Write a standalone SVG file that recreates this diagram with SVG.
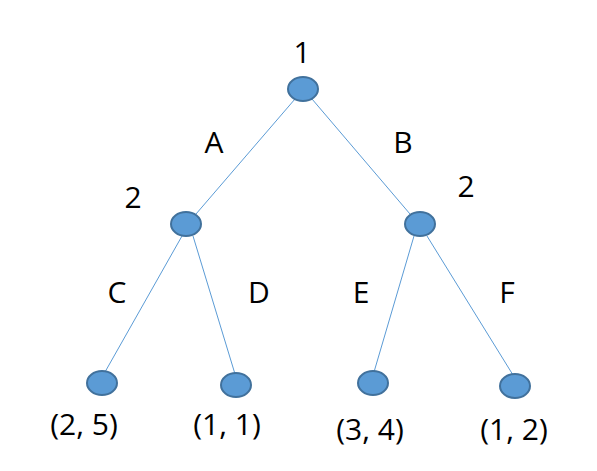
<svg xmlns="http://www.w3.org/2000/svg" width="597" height="471" viewBox="0 0 597 471">
<style>
.n{fill:#5B9BD5;stroke:#41719C;stroke-width:2}
.e{stroke:#5B9BD5;stroke-width:1;fill:none}
text{font-family:"Open Sans","Liberation Sans",sans-serif;font-size:30px;fill:#000;text-anchor:middle}
</style>
<rect width="597" height="471" fill="#fff"/>
<g id="connectors">
<line class="e" x1="295" y1="99" x2="196" y2="214"/>
<line class="e" x1="312" y1="99" x2="410" y2="214"/>
<line class="e" x1="182" y1="236" x2="105" y2="372"/>
<line class="e" x1="193" y1="236" x2="235" y2="374"/>
<line class="e" x1="414" y1="236" x2="374" y2="372"/>
<line class="e" x1="427" y1="236" x2="513" y2="375"/>
</g>
<g id="n1"><ellipse class="n" cx="303" cy="89" rx="15" ry="12"/><text x="302" y="63">1</text></g>
<g id="n2"><ellipse class="n" cx="186" cy="224" rx="15" ry="12"/><text x="133" y="208">2</text></g>
<g id="n3"><ellipse class="n" cx="420" cy="224" rx="15" ry="12"/><text x="466" y="197">2</text></g>
<g id="n4"><ellipse class="n" cx="102" cy="383" rx="15" ry="12"/><text x="84" y="435">(2, 5)</text></g>
<g id="n5"><ellipse class="n" cx="236" cy="385" rx="15" ry="12"/><text x="227" y="435">(1, 1)</text></g>
<g id="n6"><ellipse class="n" cx="373" cy="383" rx="15" ry="12"/><text x="370" y="440">(3, 4)</text></g>
<g id="n7"><ellipse class="n" cx="515" cy="386" rx="15" ry="12"/><text x="514" y="440">(1, 2)</text></g>
<g id="labels">
<text x="214" y="153">A</text>
<text x="403" y="153">B</text>
<text x="117" y="303">C</text>
<text x="259" y="303">D</text>
<text x="361" y="303">E</text>
<text x="507" y="303">F</text>
</g>
</svg>
